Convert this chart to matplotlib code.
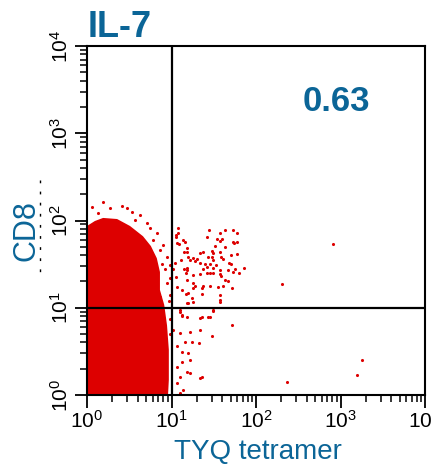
import matplotlib.pyplot as plt
from matplotlib.lines import Line2D

plt.rcParams['font.family'] = ['Liberation Sans', 'DejaVu Sans']
plt.rcParams['mathtext.fontset'] = 'custom'
plt.rcParams['mathtext.rm'] = 'Liberation Sans'
plt.rcParams['mathtext.it'] = 'Liberation Sans'

BLUE = "#0b6597"
RED = "#dd0000"

# outline of the dense CD8+ / tetramer- population (TYQ, CD8)
blob_x = [1, 1, 1.24, 1.55, 2.27, 3.23, 4.6, 5.7, 6.7, 7.3, 7.3, 8.2, 8.85, 9.3, 9.3, 9.1, 1]
blob_y = [1, 86.5, 98.7, 107, 104, 86.5, 66, 51, 37, 25.7, 16, 10.8, 6.3, 3.3, 1.49, 1.0, 1]

# scattered events at the edge of the main population
edge_x = [1.56, 2.57, 3.38, 4.24, 5.57, 6.68, 8.0, 8.77, 9.6, 12.0, 11.5, 15.1, 15.8, 15.1,
          13.2, 11.5, 1.14, 1.36, 1.87, 2.95, 3.70, 5.08, 6.1, 7.3, 7.65, 6.68, 5.57, 7.3,
          4.24, 3.87, 2.57, 9.5, 9.6, 9.4, 9.7, 9.5, 8.9, 8.4]
edge_y = [164, 147, 126, 116, 81, 71, 52, 38.5, 31, 71, 55, 48, 38.5, 27,
          16, 17.4, 144, 121, 138, 138, 101, 93, 60, 46, 32, 24.8, 16, 13.4,
          16, 8.6, 8.04, 22, 14, 12, 7.5, 5.0, 19, 28]

# upper right quadrant events (tetramer+ CD8+)
ur_x = [12.0, 28, 38, 43, 53, 60, 11.2, 11.3, 13.8, 14.6, 12.3, 26, 35, 37, 40, 53, 55, 59,
        33, 43, 14.1, 15.4, 21.7, 23.8, 30, 31, 37.5, 60, 50, 18.1, 19.9, 12.8, 16.6, 27,
        30, 31, 38.5, 41, 11, 19, 21.7, 24.9, 28.6, 48, 51, 34, 15.1, 14.1, 10.5, 26,
        31, 23.8, 38, 46, 56, 72, 63.5, 53, 14.9, 18.1, 21.7, 26, 28.6, 31, 37, 11.3,
        39, 43, 47, 15.1, 17.8, 19, 22.8, 23.8, 28.6, 35.8, 41, 51.5, 18.1, 37.5, 14.9,
        15.8, 22.8, 17.6, 37.5, 15.1, 201, 822, 15.8, 18.1, 37.5]
ur_y = [83, 78, 72, 78, 78, 72, 68, 64, 60, 57, 54, 64, 62, 58, 61, 57, 55, 57,
        51, 50, 44, 44, 42, 43, 45, 42, 44, 41, 40, 37, 36, 35, 35, 38,
        38.5, 35, 38, 36.5, 33, 34, 33, 31.7, 32, 33, 32, 31, 28.3, 27.5, 27.5, 29,
        28.3, 27.5, 27, 27, 27.5, 28.8, 25.2, 25.9, 25.2, 23.7, 24.2, 24.8, 25.2, 25.2, 24.2, 22.3,
        23.1, 20.8, 20.4, 20.8, 19.4, 17.7, 16.7, 17.7, 17.7, 17.4, 17.7, 16.7, 16.8, 14.0, 14.4,
        14.6, 14.4, 12.8, 12.3, 11.2, 18.6, 54, 11.2, 11.7, 11.7]

# lower right quadrant events (tetramer+ CD8 low)
lr_x = [12.6, 13.2, 15.1, 22.8, 28.6, 31, 12.6, 13.2, 21.7, 27, 31, 52.5, 21.7, 29.8,
        16.6, 12.6, 10.5, 14.4, 17.3, 21.3, 11.5, 13.2, 15.8, 16.6, 13.2, 11.5, 15.1,
        16.6, 12.6, 21.7, 22.8, 11.5, 13.8, 12.6, 231, 1555, 1782]
lr_y = [9.0, 8.1, 7.8, 7.8, 7.8, 9.25, 9.4, 8.3, 7.6, 7.9, 9.4, 6.3, 5.6, 4.7,
        5.3, 5.1, 5.6, 4.1, 4.1, 3.9, 3.6, 3.1, 3.0, 2.5, 2.4, 2.1, 1.85,
        1.77, 1.62, 1.55, 1.62, 1.36, 1.14, 1.05, 1.42, 1.70, 2.52]

gate_x = 10
gate_y = 10
ur_percent = "0.63"

fig = plt.figure(figsize=(4.32, 4.68), dpi=100)
ax = fig.add_axes([87 / 432, 1 - 395 / 468, 338 / 432, 349 / 468])

ax.fill(blob_x, blob_y, color=RED, linewidth=0)
for xs, ys in [(edge_x, edge_y), (ur_x, ur_y), (lr_x, lr_y)]:
    ax.scatter(xs, ys, s=5, marker="o", color=RED, linewidths=0)

ax.set_xscale("log")
ax.set_yscale("log")
ax.set_xlim(1, 1e4)
ax.set_ylim(1, 1e4)

ax.axvline(gate_x, color="black", linewidth=1.6)
ax.axhline(gate_y, color="black", linewidth=1.6)

ticks = [1, 10, 100, 1000, 10000]
labels = [r"$10^{%d}$" % i for i in range(5)]
ax.set_xticks(ticks)
ax.set_xticklabels(labels)
ax.set_yticks(ticks)
ax.set_yticklabels(labels, rotation=90, va="center")
ax.tick_params(which="major", direction="out", length=9, width=1.3, labelsize=15, pad=2)
ax.tick_params(which="minor", direction="out", length=5, width=1.1)
for sp in ax.spines.values():
    sp.set_linewidth(1.5)

ax.text(0.737, 0.84, ur_percent, transform=ax.transAxes, ha="center", va="center",
        fontsize=25, fontweight="bold", color=BLUE)

fig.text(88 / 432, 1 - 37 / 468, "IL-7", ha="left", va="baseline",
         fontsize=26, fontweight="bold", color=BLUE)
fig.text(258 / 432, 1 - 459 / 468, "TYQ tetramer", ha="center", va="baseline",
         fontsize=20, color=BLUE)
fig.text(27 / 432, 1 - 231 / 468, "CD8", ha="center", va="center", rotation=90,
         fontsize=22, color=BLUE)
fig.add_artist(Line2D([40 / 432, 40 / 432], [1 - 180 / 468, 1 - 278 / 468],
                      transform=fig.transFigure, color="black", linewidth=1,
                      linestyle=(0, (2, 6))))

plt.savefig("out.png", dpi=100)
